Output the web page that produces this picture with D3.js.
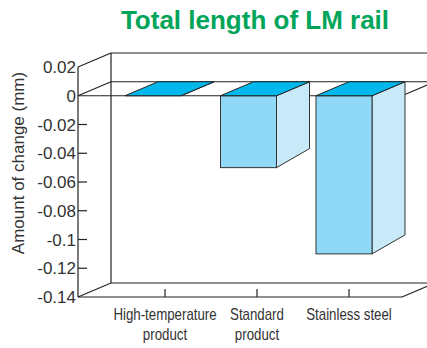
<!DOCTYPE html>
<html>
<head>
<meta charset="utf-8">
<script src="https://cdn.jsdelivr.net/npm/d3@7"></script>
<style>
  body { margin: 0; background: #fff; }
  text { font-family: "Liberation Sans", Arial, Helvetica, sans-serif; fill: #222; }
</style>
</head>
<body>
<div id="chart"></div>
<script>
// data
const categories = ["High-temperature product", "Standard product", "Stainless steel"];
const labelLines = [["High-temperature", "product"], ["Standard", "product"], ["Stainless steel"]];
const values = [0, -0.05, -0.11];
const yTicks = [0.02, 0, -0.02, -0.04, -0.06, -0.08, -0.1, -0.12, -0.14];
const yTickLabels = ["0.02", "0", "-0.02", "-0.04", "-0.06", "-0.08", "-0.1", "-0.12", "-0.14"];

const width = 427, height = 348;
const plotLeft = 78, plotRight = 402, plotTop = 67, plotBottom = 297;
const dx = 33, dy = 14, sideDy = 19;

const svg = d3.select("#chart").append("svg")
  .attr("width", width)
  .attr("height", height);

const y = d3.scaleLinear().domain([-0.14, 0.02]).range([plotBottom, plotTop]);
const x = d3.scaleBand().domain(categories).range([125, 372]).paddingInner(0.4136).paddingOuter(0);
const xt = d3.scalePoint().domain(categories).range([165, 349]).padding(0);

const line = (x1, y1, x2, y2) => svg.append("line")
  .attr("x1", x1).attr("y1", y1).attr("x2", x2).attr("y2", y2)
  .attr("stroke", "#222").attr("stroke-width", 1.2);

const y0 = y(0), yTop = y(0.02), yBot = y(-0.14);

// back wall / floor
line(plotLeft + dx, yTop - dy, plotRight + dx, yTop - dy);
line(plotLeft + dx, yTop - dy, plotLeft + dx, yBot - dy);
line(plotLeft + dx, yBot - dy, plotRight + dx, yBot - dy);
line(plotLeft + dx, y0 - dy, plotRight + dx, y0 - dy);
// side diagonals
line(plotLeft, yTop, plotLeft + dx, yTop - dy);
line(plotLeft, y0, plotLeft + dx, y0 - dy);
line(plotLeft, yBot, plotLeft + dx, yBot - dy);
line(plotRight, yBot, plotRight + dx, yBot - dy);
line(plotRight, y0, plotRight + dx, y0 - dy);
// front axes
line(plotLeft, yTop, plotLeft, yBot);
line(plotLeft, yBot, plotRight, yBot);
line(plotLeft, y0, plotRight, y0);

// bars
const bars = svg.append("g").selectAll("g")
  .data(categories.map((c, i) => ({ c, v: values[i] })))
  .join("g");

bars.append("path")
  .attr("fill", "#c8eaf8")
  .attr("stroke", "#333")
  .attr("stroke-width", 1)
  .attr("d", d => {
    const x1 = x(d.c) + x.bandwidth();
    const yv = y(d.v);
    return `M${x1},${y0}L${x1 + dx},${y0 - dy}L${x1 + dx},${yv - (d.v === 0 ? dy : sideDy)}L${x1},${yv}Z`;
  });

bars.append("rect")
  .attr("x", d => x(d.c))
  .attr("y", y0)
  .attr("width", x.bandwidth())
  .attr("height", d => y(d.v) - y0)
  .attr("fill", "#8fd8f6")
  .attr("stroke", "#333")
  .attr("stroke-width", 1);

bars.append("path")
  .attr("fill", "#00b8ec")
  .attr("stroke", "#222")
  .attr("stroke-width", 1)
  .attr("d", d => {
    const x0 = x(d.c), x1 = x0 + x.bandwidth();
    return `M${x0},${y0}L${x0 + dx},${y0 - dy}L${x1 + dx},${y0 - dy}L${x1},${y0}Z`;
  });

// y ticks
svg.append("g").selectAll("line")
  .data(yTicks.filter(t => t < 0 && t > -0.14))
  .join("line")
  .attr("x1", plotLeft).attr("x2", plotLeft + 9)
  .attr("y1", d => y(d)).attr("y2", d => y(d))
  .attr("stroke", "#222").attr("stroke-width", 1.2);

svg.append("g").selectAll("text")
  .data(yTicks)
  .join("text")
  .attr("x", plotLeft - 2)
  .attr("y", d => y(d))
  .attr("dy", "0.36em")
  .attr("text-anchor", "end")
  .attr("font-size", 17)
  .style("fill", "#333")
  .text((d, i) => yTickLabels[i]);

// x ticks
svg.append("g").selectAll("line")
  .data(categories)
  .join("line")
  .attr("x1", d => xt(d)).attr("x2", d => xt(d))
  .attr("y1", plotBottom).attr("y2", plotBottom - 8)
  .attr("stroke", "#222").attr("stroke-width", 1.2);

// category labels, squeezed to a narrow face
const xl = svg.append("g").selectAll("text")
  .data(categories)
  .join("text")
  .attr("transform", d => `translate(${xt(d)},320) scale(0.83,1)`)
  .attr("text-anchor", "middle")
  .attr("font-size", 16)
  .style("fill", "#333");

xl.selectAll("tspan")
  .data((d, i) => labelLines[i])
  .join("tspan")
  .attr("x", 0)
  .attr("dy", (d, i) => i === 0 ? 0 : 20)
  .text(d => d);

// axis title
svg.append("text")
  .attr("transform", `translate(24,163) rotate(-90)`)
  .attr("text-anchor", "middle")
  .attr("font-size", 17)
  .style("fill", "#333")
  .text("Amount of change (mm)");

// chart title
svg.append("text")
  .attr("x", 255)
  .attr("y", 29)
  .attr("text-anchor", "middle")
  .attr("font-size", 26)
  .attr("font-weight", "bold")
  .style("fill", "#00a55a")
  .text("Total length of LM rail");
</script>
</body>
</html>
